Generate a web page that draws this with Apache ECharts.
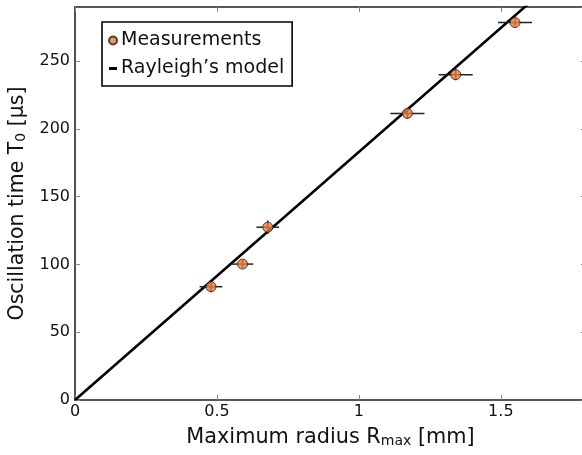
<!DOCTYPE html>
<html>
<head>
<meta charset="utf-8">
<title>Oscillation time vs maximum radius</title>
<script src="https://cdn.jsdelivr.net/npm/echarts@6/dist/echarts.min.js"></script>
<style>
  html, body { margin: 0; padding: 0; background: #ffffff; }
  #chart { width: 582px; height: 455px; }
</style>
</head>
<body>
<div id="chart"></div>
<script>
// Measured bubble oscillation time against maximum radius
const radiusMm   = [0.479, 0.590, 0.679, 1.171, 1.341, 1.550];
const timeUs     = [83.6, 100.3, 127.5, 211.5, 240.0, 278.5];
const radiusErr  = [0.040, 0.038, 0.040, 0.060, 0.060, 0.060];
const timeErr    = [4, 3, 5, 4, 4, 3];

// Rayleigh collapse model (straight line through the origin)
const modelR = [0, 1.8];
const modelT = [0, 329.5];

// Axis ranges and tick steps
const xRange = [0, 1.8];
const xStep = 0.5;
const yRange = [0, 290];
const yStep = 50;

const FONT = 'DejaVu Sans';
const INK = '#111111';

const measurePoints = radiusMm.map((r, i) => [r, timeUs[i]]);
const errorPoints = radiusMm.map((r, i) => [r, timeUs[i], radiusErr[i], timeErr[i]]);
const modelPoints = modelR.map((r, i) => [r, modelT[i]]);

const chart = echarts.init(document.getElementById('chart'), null, { renderer: 'canvas' });

// Axes that only close the frame on the top and right sides
const frameAxis = {
  type: 'value',
  axisLine: { show: true, onZero: false, lineStyle: { color: '#222', width: 1.6 } },
  axisTick: { show: true, inside: true, length: 5, lineStyle: { color: '#888', width: 1 } },
  axisLabel: { show: false },
  splitLine: { show: false }
};

chart.setOption({
  animation: false,
  backgroundColor: '#ffffff',
  grid: {
    left: 75, top: 7, width: 511, height: 393,
    containLabel: false,
    outerBoundsMode: 'none'
  },
  legend: {
    left: 102,
    top: 22,
    orient: 'vertical',
    padding: [9, 8, 8, 6],
    itemGap: 9,
    itemWidth: 8,
    itemHeight: 8,
    symbolKeepAspect: true,
    borderColor: '#000',
    borderWidth: 1.6,
    backgroundColor: '#ffffff',
    textStyle: { fontFamily: FONT, fontSize: 19, color: INK, padding: [0, 0, 0, -1] },
    data: [
      { name: 'Measurements', icon: 'circle' },
      { name: 'Rayleigh’s model', icon: 'path://M0,0h8v3h-8z', itemStyle: { color: '#000', borderWidth: 0 } }
    ]
  },
  xAxis: [
    {
      type: 'value',
      min: xRange[0], max: xRange[1], interval: xStep,
      axisLine: { show: true, onZero: false, lineStyle: { color: '#222', width: 1.6 } },
      axisTick: { show: true, inside: true, length: 5, lineStyle: { color: '#888', width: 1 } },
      axisLabel: { fontFamily: FONT, fontSize: 16, color: INK, margin: 4, showMaxLabel: false },
      splitLine: { show: false },
      name: '{a|Maximum radius R}{s|max}{a| [mm]}',
      nameLocation: 'middle',
      nameGap: 27,
      nameTextStyle: {
        rich: {
          a: { fontFamily: FONT, fontSize: 20.8, color: INK, lineHeight: 21, verticalAlign: 'bottom' },
          s: { fontFamily: FONT, fontSize: 14, color: INK, lineHeight: 14, verticalAlign: 'bottom' }
        }
      }
    },
    Object.assign({}, frameAxis, {
      position: 'top', min: xRange[0], max: xRange[1], interval: xStep
    })
  ],
  yAxis: [
    {
      type: 'value',
      min: yRange[0], max: yRange[1], interval: yStep,
      axisLine: { show: true, onZero: false, lineStyle: { color: '#222', width: 1.6 } },
      axisTick: { show: true, inside: true, length: 5, lineStyle: { color: '#888', width: 1 } },
      axisLabel: { fontFamily: FONT, fontSize: 16, color: INK, margin: 5, showMaxLabel: false },
      splitLine: { show: false },
      name: '{a|Oscillation time T}{s|0}{a| [μs]}',
      nameLocation: 'middle',
      nameGap: 35,
      nameTextStyle: {
        rich: {
          a: { fontFamily: FONT, fontSize: 20.5, color: INK, lineHeight: 21, verticalAlign: 'bottom' },
          s: { fontFamily: FONT, fontSize: 14, color: INK, lineHeight: 14, verticalAlign: 'bottom' }
        }
      }
    },
    Object.assign({}, frameAxis, {
      position: 'right', min: yRange[0], max: yRange[1], interval: yStep
    })
  ],
  series: [
    {
      name: 'Rayleigh’s model',
      type: 'line',
      data: modelPoints,
      showSymbol: false,
      symbol: 'none',
      clip: true,
      lineStyle: { color: '#000', width: 2.6 },
      itemStyle: { color: '#000' },
      z: 2
    },
    {
      name: 'error bars',
      type: 'custom',
      data: errorPoints,
      clip: true,
      z: 3,
      renderItem: function (params, api) {
        const x = api.value(0), y = api.value(1);
        const dx = api.value(2), dy = api.value(3);
        const left = api.coord([x - dx, y]);
        const right = api.coord([x + dx, y]);
        const low = api.coord([x, y - dy]);
        const high = api.coord([x, y + dy]);
        const style = { stroke: '#222', lineWidth: 1.5 };
        return {
          type: 'group',
          children: [
            { type: 'line', shape: { x1: left[0], y1: left[1], x2: right[0], y2: right[1] }, style: style },
            { type: 'line', shape: { x1: low[0], y1: low[1], x2: high[0], y2: high[1] }, style: style }
          ]
        };
      }
    },
    {
      name: 'Measurements',
      type: 'scatter',
      data: measurePoints,
      symbol: 'circle',
      symbolSize: 10,
      itemStyle: { color: '#EE7D3D', borderColor: '#2a1d14', borderWidth: 1 },
      z: 4
    }
  ]
});
</script>
</body>
</html>
